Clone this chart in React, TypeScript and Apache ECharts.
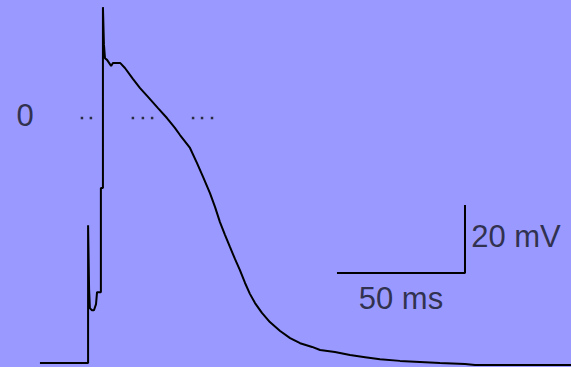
import React, { useEffect, useRef } from "react";
import * as echarts from "echarts";

// Membrane potential trace: time (ms) and voltage (mV)
const traceTime = [
  15.6, 34.4, 34.4, 34.8, 35.1, 35.9, 36.7, 37.5, 37.9, 39.4, 39.4, 40.2, 40.2, 40.6, 41.0,
  41.8, 42.6, 43.4, 44.1, 45.7, 46.9, 48.8, 51.9, 54.7, 57.8, 61.7, 65.2, 68.3, 70.3, 74.2,
  76.9, 79.3, 82.0, 84.0, 85.9, 87.9, 89.8, 91.8, 93.7, 95.7, 97.6, 99.6, 102.3, 105.4,
  109.4, 113.3, 117.2, 121.9, 125.0, 130.8, 136.7, 142.6, 148.4, 156.2, 164.0, 171.8,
  181.6, 185.5, 223.0,
];
const traceVoltage = [
  -72.0, -72.0, -31.5, -50.6, -55.9, -56.5, -56.5, -54.7, -51.2, -51.2, -20.6, -20.6, 32.6,
  21.5, 17.6, 17.1, 16.2, 15.3, 16.2, 16.2, 16.2, 14.7, 11.5, 8.8, 6.2, 2.9, 0.0, -2.9, -5.0,
  -8.8, -13.2, -17.3, -22.1, -26.2, -30.6, -34.4, -37.9, -41.5, -44.7, -48.5, -51.7, -54.4,
  -57.3, -60.0, -62.6, -64.7, -66.2, -67.3, -68.2, -68.8, -69.7, -70.3, -70.9, -71.4, -71.7,
  -72.0, -72.3, -72.6, -72.6,
];

// Dotted zero-potential reference marks (ms)
const zeroDotTimes = [32.0, 35.5, 51.9, 55.8, 59.4, 75.4, 78.9, 82.8];

// Scale bar
const scaleBarCorner = [181.6, -45.6]; // ms, mV (bottom-right corner)
const scaleBarTime = 50; // ms
const scaleBarVoltage = 20; // mV
const scaleTimeLabel = "50 ms";
const scaleVoltageLabel = "20 mV";
const zeroLabel = "0";

const X_MIN = 0;
const X_MAX = 223;
const Y_MIN = -73.2;
const Y_MAX = 34.7;

const FONT = "'Liberation Sans', Arial, sans-serif";
const TEXT_COLOR = "#141420";

export default function App() {
  const ref = useRef<HTMLDivElement>(null);

  useEffect(() => {
    if (!ref.current) return;
    const chart = echarts.init(ref.current, undefined, { renderer: "svg" });

    const trace = traceTime.map((t, i) => [t, traceVoltage[i]]);
    const [cx, cy] = scaleBarCorner;
    const scaleBar = [
      [cx - scaleBarTime, cy],
      [cx, cy],
      [cx, cy + scaleBarVoltage],
    ];

    const labelStyle = {
      show: true,
      fontFamily: FONT,
      fontSize: 31,
      color: TEXT_COLOR,
    };

    chart.setOption({
      animation: false,
      backgroundColor: "#9999FF",
      grid: { left: 0, right: 0, top: 0, bottom: 0 },
      xAxis: { type: "value", min: X_MIN, max: X_MAX, show: false },
      yAxis: { type: "value", min: Y_MIN, max: Y_MAX, show: false },
      series: [
        {
          type: "line",
          data: trace,
          showSymbol: false,
          symbol: "none",
          lineStyle: { color: "#000", width: 2 },
          silent: true,
        },
        {
          type: "scatter",
          data: zeroDotTimes.map((t) => [t, 0]),
          symbol: "rect",
          symbolSize: [2.5, 2.5],
          itemStyle: { color: "#111" },
          silent: true,
        },
        {
          type: "line",
          data: scaleBar,
          showSymbol: false,
          symbol: "none",
          lineStyle: { color: "#000", width: 2 },
          silent: true,
        },
        {
          type: "scatter",
          symbolSize: 0,
          silent: true,
          data: [
            {
              value: [9.8, 0],
              label: { ...labelStyle, position: "inside", offset: [0, -3], formatter: zeroLabel },
            },
            {
              value: [cx - scaleBarTime / 2, -53.1],
              label: { ...labelStyle, position: "inside", formatter: scaleTimeLabel },
            },
            {
              value: [184.0, -34.7],
              label: {
                ...labelStyle,
                position: "inside",
                align: "left",
                formatter: scaleVoltageLabel,
              },
            },
          ],
        },
      ],
    });

    return () => chart.dispose();
  }, []);

  return (
    <div
      ref={ref}
      style={{ position: "fixed", left: 0, top: 0, width: 571, height: 367 }}
    />
  );
}
